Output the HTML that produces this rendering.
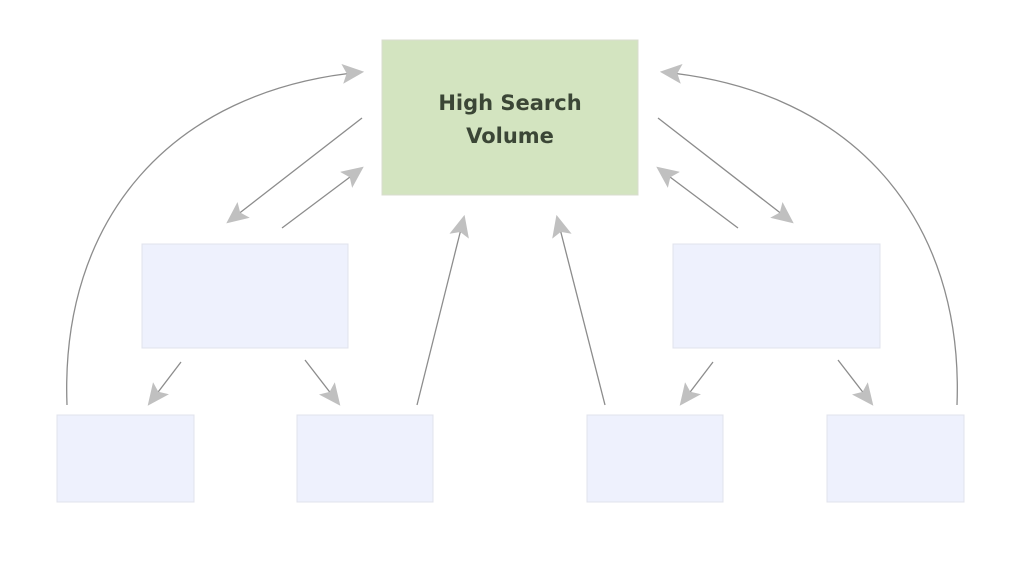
<!DOCTYPE html>
<html><head><meta charset="utf-8"><style>
html,body{margin:0;padding:0;background:#fff;width:1024px;height:576px;overflow:hidden}
svg{display:block}
</style></head><body>
<svg width="1024" height="576" viewBox="0 0 1024 576" xmlns="http://www.w3.org/2000/svg">
<defs>
<marker id="b" viewBox="0 0 10 10" refX="9" refY="5" markerWidth="22" markerHeight="20" markerUnits="userSpaceOnUse" orient="auto" preserveAspectRatio="none">
<path d="M0,0 L10,5 L0,10 L2,5 z" fill="#c0c0c0"/>
</marker>
</defs>
<g fill="#eef1fd" stroke="#e0e3ec" stroke-width="1">
<rect x="142" y="244" width="206" height="104"/>
<rect x="673" y="244" width="207" height="104"/>
<rect x="57" y="415" width="137" height="87"/>
<rect x="297" y="415" width="136" height="87"/>
<rect x="587" y="415" width="136" height="87"/>
<rect x="827" y="415" width="137" height="87"/>
</g>
<rect x="382" y="40" width="256" height="155" fill="#d3e4c0" stroke="#d8dccf"/>
<text x="510" y="110" text-anchor="middle" font-family="DejaVu Sans, sans-serif" font-weight="bold" font-size="21" fill="#3b4636">High Search</text>
<text x="510" y="143" text-anchor="middle" font-family="DejaVu Sans, sans-serif" font-weight="bold" font-size="21" fill="#3b4636">Volume</text>
<g fill="none" stroke="#8c8c8c" stroke-width="1.3" marker-end="url(#b)">
<path d="M67,405 C60,220 170,90 362,72"/>
<path d="M957,405 C964,220 854,90 662,72"/>
<path d="M362,118 L228,222"/>
<path d="M282,228 L362,168"/>
<path d="M417,405 L464,217"/>
<path d="M605,405 L557,217"/>
<path d="M738,228 L658,168"/>
<path d="M658,118 L792,222"/>
<path d="M181,362 L149,404"/>
<path d="M305,360 L339,404"/>
<path d="M713,362 L681,404"/>
<path d="M838,360 L872,404"/>
</g>
</svg>
</body></html>
